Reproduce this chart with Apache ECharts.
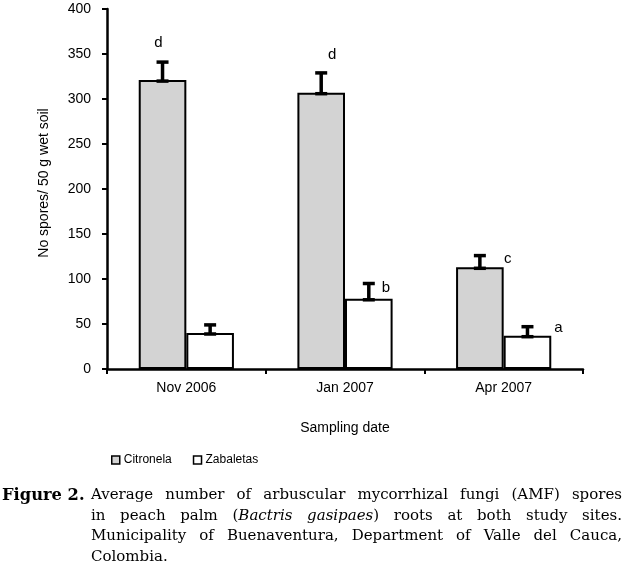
<!DOCTYPE html>
<html>
<head>
<meta charset="utf-8">
<script src="https://cdn.jsdelivr.net/npm/echarts@6/dist/echarts.min.js"></script>
<style>
  html, body { margin: 0; padding: 0; background: #fff; }
  #chart { position: absolute; left: 0; top: 0; width: 626px; height: 569px; }
  #caption { position: absolute; left: 0; top: 484px; width: 622px;
    font-family: "DejaVu Serif", "Liberation Serif", serif; font-size: 15px; line-height: 20.7px; color: #000; }
  #caption .lbl { position: absolute; left: 2px; top: 1px; font-weight: bold; font-size: 16.3px; line-height: 20.7px; }
  #caption .body { margin-left: 91px; }
  #caption .ln { text-align: justify; text-align-last: justify; white-space: nowrap; }
  #caption .ln.last { text-align-last: left; }
</style>
</head>
<body>
<div id="chart"></div>
<div id="caption">
  <span class="lbl">Figure 2.</span>
  <div class="body">
    <div class="ln">Average number of arbuscular mycorrhizal fungi (AMF) spores</div>
    <div class="ln">in peach palm (<i>Bactris gasipaes</i>) roots at both study sites.</div>
    <div class="ln">Municipality of Buenaventura, Department of Valle del Cauca,</div>
    <div class="ln last">Colombia.</div>
  </div>
</div>
<script>
// ---- data ----
const categories = ['Nov 2006', 'Jan 2007', 'Apr 2007'];
const seriesNames = ['Citronela', 'Zabaletas'];
const citronela = [321, 307, 113];
const zabaletas = [40, 78, 37];
const citronelaErr = [20, 22, 13];
const zabaletasErr = [9, 17, 10];
const citronelaLetters = ['d', 'd', 'c'];
const zabaletasLetters = ['', 'b', 'a'];
const yMin = 0, yMax = 400, yInterval = 50;

// ---- style ----
const barFrac = 0.30;              // bar width as fraction of category band
const citronelaLetterOffset = [[-4, -19], [11, -18], [28, 3]];
const zabaletasLetterOffset = [[0, 0], [17, 4], [31, 1]];

const chart = echarts.init(document.getElementById('chart'), null, { renderer: 'canvas' });
const font = 'Liberation Sans, Arial, sans-serif';

function errSeries(name, vals, errs, letters, offsets, side) {
  return {
    type: 'custom',
    name: name + ' err',
    z: 10,
    silent: true,
    data: vals.map((v, i) => [i, v, errs[i], letters[i]]),
    encode: { x: 0, y: 1 },
    renderItem: function (params, api) {
      const i = api.value(0);
      const v = api.value(1);
      const e = api.value(2);
      const band = api.size([1, 0])[0];
      const c = api.coord([i, v]);
      const x = c[0] + side * band * barFrac / 2;
      const y0 = c[1];
      const y1 = api.coord([i, v + e])[1];
      const cap = 6;
      const st = { stroke: '#000', lineWidth: 3.5 };
      const children = [
        { type: 'line', shape: { x1: x, y1: y0, x2: x, y2: y1 }, style: st },
        { type: 'line', shape: { x1: x - cap, y1: y1, x2: x + cap, y2: y1 }, style: st },
        { type: 'line', shape: { x1: x - cap, y1: y0 + 1, x2: x + cap, y2: y0 + 1 }, style: st }
      ];
      const letter = letters[params.dataIndex];
      if (letter) {
        const off = offsets[params.dataIndex];
        children.push({
          type: 'text',
          style: { text: letter, x: x + off[0], y: y1 + off[1], align: 'center', verticalAlign: 'middle',
            font: '15px ' + font, fill: '#000' }
        });
      }
      return { type: 'group', children: children };
    }
  };
}

chart.setOption({
  animation: false,
  backgroundColor: '#fff',
  grid: { left: 107, right: 43, top: 9, bottom: 200, containLabel: false },
  legend: {
    left: 106, top: 449,
    itemWidth: 8, itemHeight: 8, itemGap: 21,
    icon: 'rect',
    data: seriesNames,
    textStyle: { fontFamily: font, fontSize: 12, color: '#000', padding: [0, 0, 0, -1] },
    itemStyle: { borderWidth: 1.5, borderColor: '#000' }
  },
  xAxis: {
    type: 'category',
    data: categories,
    boundaryGap: true,
    name: 'Sampling date',
    nameLocation: 'middle',
    nameGap: 52,
    nameTextStyle: { fontFamily: font, fontSize: 14, color: '#000' },
    axisLine: { lineStyle: { color: '#000', width: 2.5 } },
    axisTick: { show: true, alignWithLabel: false, length: 5, lineStyle: { color: '#000', width: 2 } },
    axisLabel: { fontFamily: font, fontSize: 14, color: '#000', margin: 12 }
  },
  yAxis: {
    type: 'value',
    min: yMin, max: yMax, interval: yInterval,
    name: 'No spores/ 50 g wet soil',
    nameLocation: 'middle',
    nameRotate: 90,
    nameGap: 56,
    nameTextStyle: { fontFamily: font, fontSize: 14, color: '#000', padding: [0, 0, 0, 12] },
    splitLine: { show: false },
    axisLine: { show: true, lineStyle: { color: '#000', width: 2.5 } },
    axisTick: { show: true, length: 5, lineStyle: { color: '#000', width: 2 } },
    axisLabel: { fontFamily: font, fontSize: 14, color: '#000', margin: 16 }
  },
  series: [
    {
      type: 'bar', name: seriesNames[0], data: citronela,
      barWidth: (barFrac * 100) + '%', barGap: '0%',
      itemStyle: { color: '#d3d3d3', borderColor: '#000', borderWidth: 2 }
    },
    {
      type: 'bar', name: seriesNames[1], data: zabaletas,
      barWidth: (barFrac * 100) + '%', barGap: '0%',
      itemStyle: { color: '#ffffff', borderColor: '#000', borderWidth: 2 }
    },
    errSeries(seriesNames[0], citronela, citronelaErr, citronelaLetters, citronelaLetterOffset, -1),
    errSeries(seriesNames[1], zabaletas, zabaletasErr, zabaletasLetters, zabaletasLetterOffset, 1)
  ]
});
</script>
</body>
</html>
